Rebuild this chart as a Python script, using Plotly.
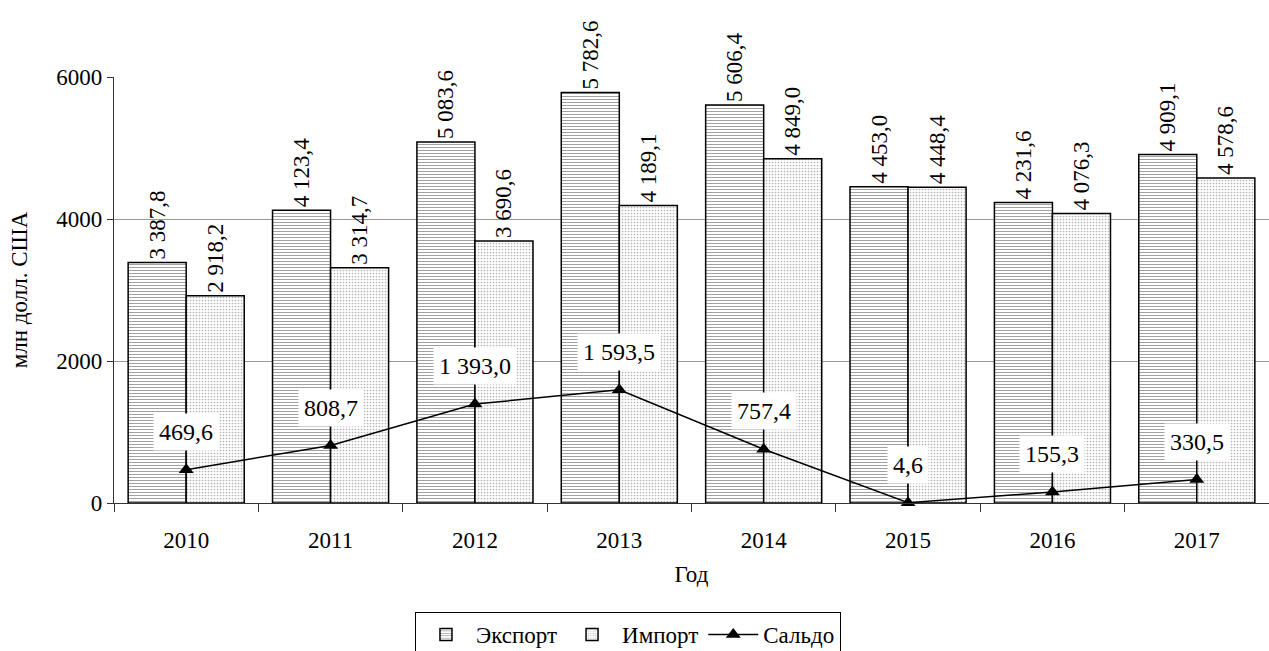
import plotly.graph_objects as go

years = ["2010", "2011", "2012", "2013", "2014", "2015", "2016", "2017"]
export_vals = [3387.8, 4123.4, 5083.6, 5782.6, 5606.4, 4453.0, 4231.6, 4909.1]
import_vals = [2918.2, 3314.7, 3690.6, 4189.1, 4849.0, 4448.4, 4076.3, 4578.6]
saldo_vals = [469.6, 808.7, 1393.0, 1593.5, 757.4, 4.6, 155.3, 330.5]
y_ticks = [0, 2000, 4000, 6000]


def fmt(v):
    s = f"{v:,.1f}"
    return s.replace(",", " ").replace(".", ",")


FONT = "Liberation Serif"
FS = 23

fig = go.Figure()
fig.add_trace(go.Bar(
    name="Экспорт", x=years, y=export_vals,
    text=[fmt(v) for v in export_vals], textposition="outside", textangle=-90,
    constraintext="none", cliponaxis=False,
    textfont=dict(family=FONT, size=FS, color="black"),
    marker=dict(color="white", line=dict(color="black", width=1.5),
                pattern=dict(shape="-", fgcolor="#444", bgcolor="white", size=3, solidity=0.35)),
))
fig.add_trace(go.Bar(
    name="Импорт", x=years, y=import_vals,
    text=[fmt(v) for v in import_vals], textposition="outside", textangle=-90,
    constraintext="none", cliponaxis=False,
    textfont=dict(family=FONT, size=FS, color="black"),
    marker=dict(color="white", line=dict(color="black", width=1.5),
                pattern=dict(shape=".", fgcolor="#666", bgcolor="white", size=3, solidity=0.25)),
))
fig.add_trace(go.Scatter(
    name="Сальдо", x=years, y=saldo_vals, mode="lines+markers", cliponaxis=False,
    line=dict(color="black", width=1.5),
    marker=dict(symbol="triangle-up", size=13, color="black"),
))

for i, v in enumerate(saldo_vals):
    fig.add_annotation(x=i, y=v, xref="x", yref="y", yshift=38, text=fmt(v), showarrow=False,
                       bgcolor="white", borderpad=5,
                       font=dict(family=FONT, size=FS + 1, color="black"))

fig.update_layout(
    width=1269, height=651,
    margin=dict(l=114, r=0, t=77, b=148, autoexpand=False),
    paper_bgcolor="white", plot_bgcolor="white",
    font=dict(family=FONT, size=FS, color="black"),
    barmode="group", bargap=0.196, bargroupgap=0,
    showlegend=True,
    legend=dict(orientation="h", x=0.445, xanchor="center", y=-0.256, yanchor="top",
                bordercolor="black", borderwidth=1, bgcolor="white",
                font=dict(family=FONT, size=FS), traceorder="normal", itemwidth=50),
)
fig.update_xaxes(
    type="category", range=[-0.5, 7.5], showline=True, linecolor="#333", linewidth=1.2,
    ticks="outside", ticklen=8, tickcolor="#333", tickson="boundaries", automargin=False,
    ticklabelstandoff=16,
    title=dict(text="Год", standoff=14, font=dict(family=FONT, size=FS)),
    tickfont=dict(family=FONT, size=FS), showgrid=False,
)
fig.update_yaxes(
    range=[0, 6000], tickvals=y_ticks, ticktext=[str(t) for t in y_ticks],
    showline=True, linecolor="#333", linewidth=1.2, automargin=False,
    ticks="outside", ticklen=6, tickcolor="#333",
    showgrid=True, gridcolor="#999", gridwidth=1, zeroline=False,
    title=dict(text="млн долл. США", standoff=22, font=dict(family=FONT, size=FS)),
    tickfont=dict(family=FONT, size=FS),
)

fig.write_html("out.html", config={"displayModeBar": False},
               post_script="document.body.style.margin='0';document.body.style.overflow='hidden';")
